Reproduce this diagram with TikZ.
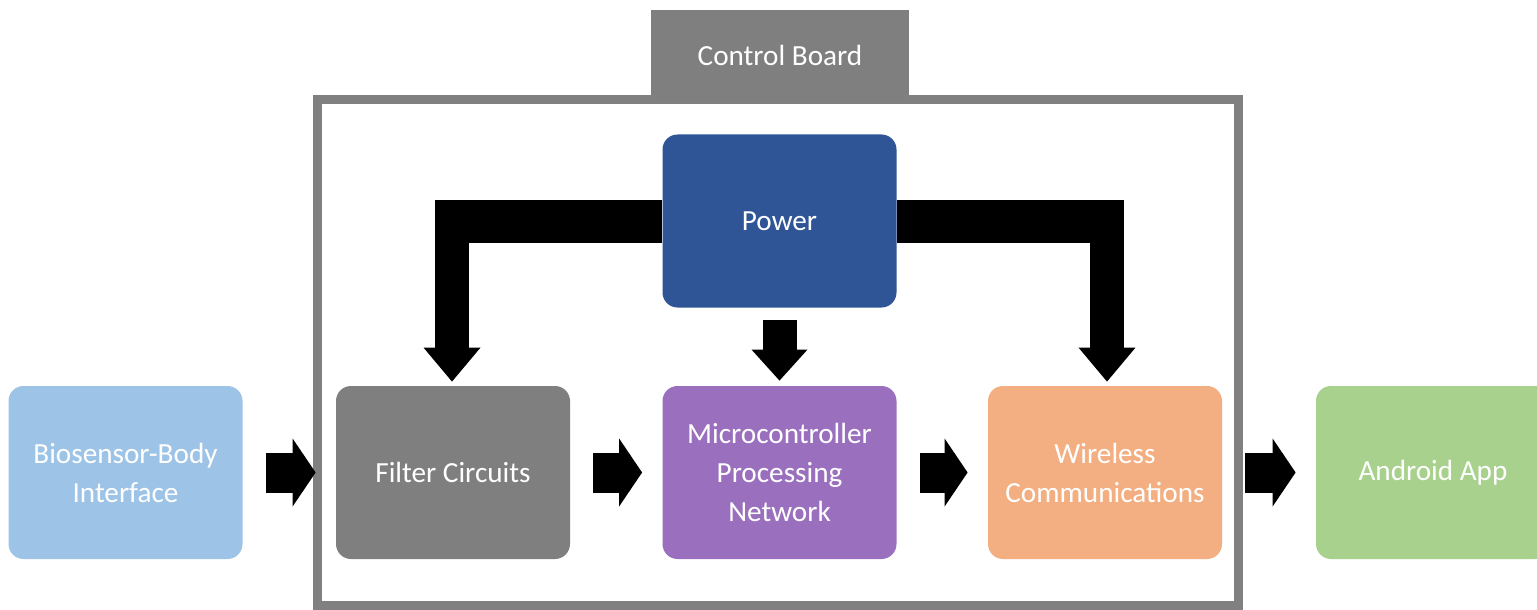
\documentclass[tikz,border=0pt]{standalone}
\usepackage{fontspec}
\setmainfont{Carlito}
\usetikzlibrary{arrows.meta,calc}
\definecolor{boxgray}{HTML}{7F7F7F}
\definecolor{framegray}{HTML}{808080}
\definecolor{powblue}{HTML}{2F5597}
\definecolor{micpurple}{HTML}{9A70BE}
\definecolor{wirorange}{HTML}{F3AF81}
\definecolor{biolblue}{HTML}{9DC3E6}
\definecolor{andgreen}{HTML}{A9D18E}
\tikzset{
  blockbox/.style={rounded corners=7.5pt, minimum width=117pt, minimum height=86.5pt,
    inner sep=0pt, text=white, align=center,
    font=\fontsize{14.6pt}{19.5pt}\selectfont},
  harrow/.style={line width=20pt, -{Triangle[length=11.5pt,width=34pt,line width=0pt]},
    shorten <=11.5pt, shorten >=10pt},
  darrow/.style={line width=17pt, -{Triangle[length=17pt,width=28.5pt,line width=0pt]}},
  powbar/.style={line width=21.5pt},
}
\begin{document}
\begin{tikzpicture}[x=0.5pt,y=-0.5pt]
\clip (0,0) rectangle (1537,610);
\fill[white] (0,0) rectangle (1537,610);
% board frame and tab
\node[draw=framegray, line width=4.5pt, minimum width=460.5pt, minimum height=252.5pt, inner sep=0pt] (board) at (778,352.5) {};
\node[fill=boxgray, minimum width=129pt, minimum height=45pt, inner sep=0pt, text=white,
  font=\fontsize{14.6pt}{19.5pt}\selectfont] (tab) at (780,55) {Control Board};
% boxes
\node[blockbox, fill=powblue] (pow) at (779.5,221) {Power};
\node[blockbox, fill=biolblue] (bio) at (125.5,472.5) {Biosensor-Body\\Interface};
\node[blockbox, fill=boxgray] (fil) at (453,472.5) {Filter Circuits};
\node[blockbox, fill=micpurple] (mic) at (779.5,472.5) {Microcontroller\\Processing\\Network};
\node[blockbox, fill=wirorange] (wir) at (1105,472.5) {Wireless\\Communications};
\node[blockbox, fill=andgreen] (and) at (1433,472.5) {Android App};
% horizontal block arrows
\draw[harrow] (bio.east) -- (fil.west);
\draw[harrow] (fil.east) -- (mic.west);
\draw[harrow] (mic.east) -- (wir.west);
\draw[harrow] (wir.east) -- (and.west);
% power distribution
\coordinate (lk) at ($(fil.north)+(-1,-186)$);
\coordinate (rk) at ($(wir.north)+(2,-186)$);
\coordinate (lbx) at ($(lk)+(-17,0)$);
\coordinate (rbx) at ($(rk)+(17,0)$);
\draw[powbar] (pow.west) -- (pow.west -| lbx);
\draw[powbar] (pow.east) -- (pow.east -| rbx);
\draw[darrow, shorten >=2pt] (lk) -- (lk |- fil.north);
\draw[darrow, shorten >=2pt] (rk) -- (rk |- wir.north);
\draw[darrow, -{Triangle[length=15.5pt,width=28pt,line width=0pt]}, shorten <=6pt, shorten >=2.5pt] (pow.south) -- (mic.north);
\end{tikzpicture}
\end{document}
